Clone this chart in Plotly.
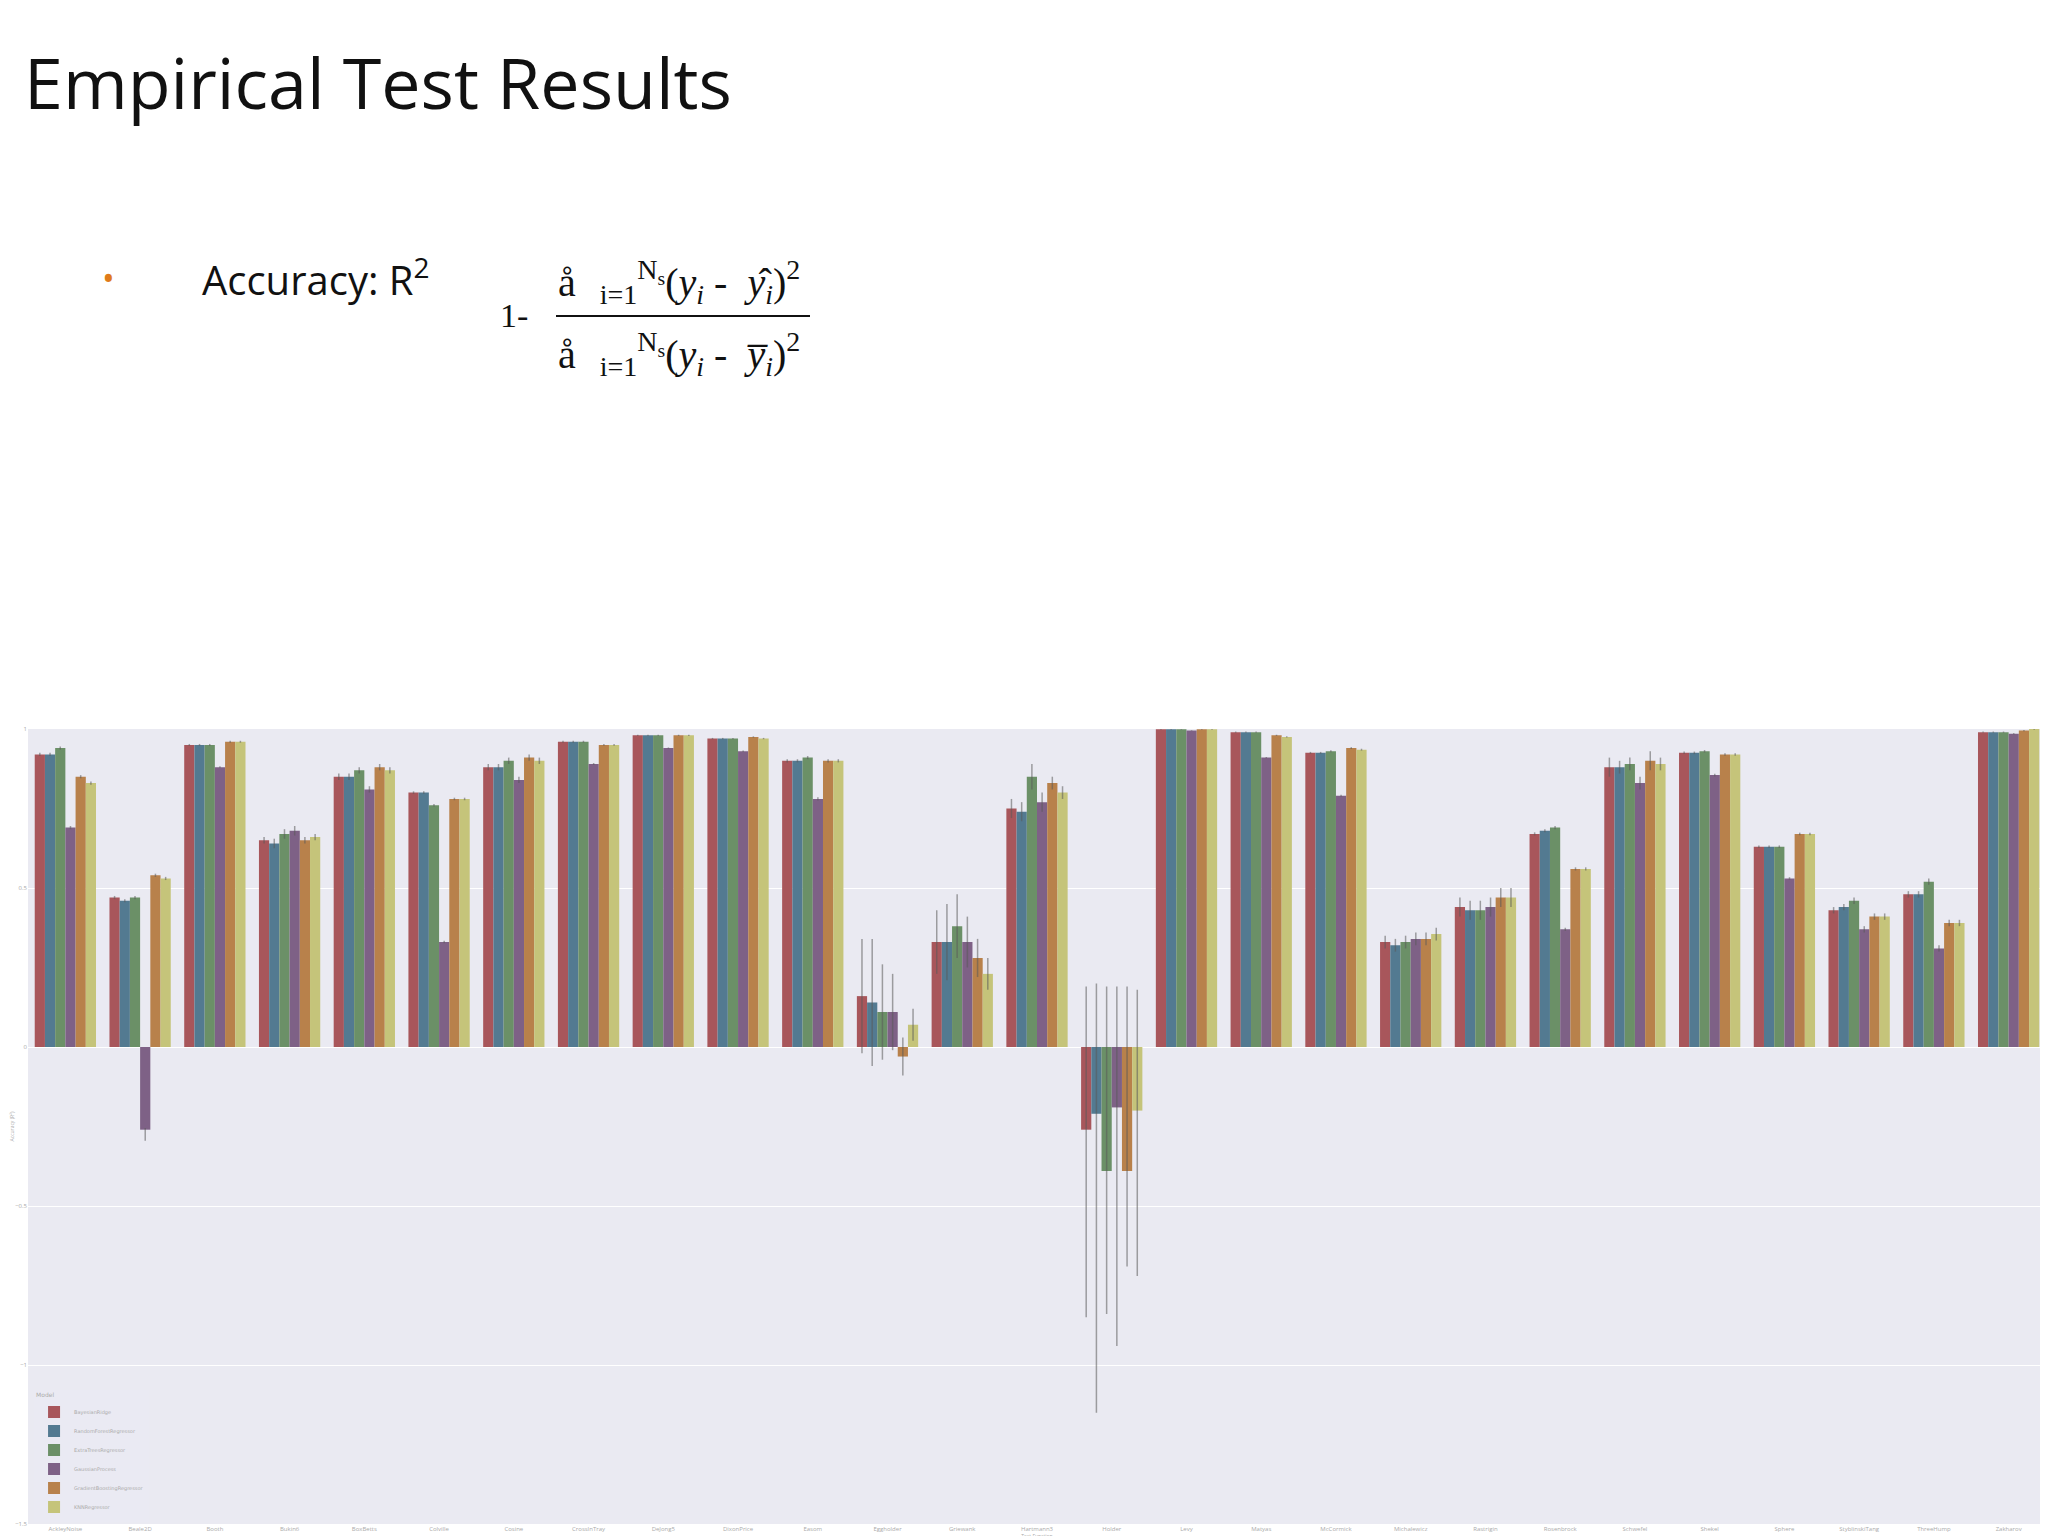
import plotly.graph_objects as go

W, H = 2048, 1536
L, R, T, B = 20, 10, 721, 20

functions = ["AckleyNoise", "Beale2D", "Booth", "Bukin6", "BoxBetts", "Colville", "Cosine", "CrossInTray", "DeJong5", "DixonPrice",
             "Easom", "Eggholder", "Griewank", "Hartmann3", "Holder", "Levy", "Matyas", "McCormick", "Michalewicz", "Rastrigin",
             "Rosenbrock", "Schwefel", "Shekel", "Sphere", "StyblinskiTang", "ThreeHump", "Zakharov"]
models = ["BayesianRidge", "RandomForestRegressor", "ExtraTreesRegressor", "GaussianProcess", "GradientBoostingRegressor", "KNNRegressor"]
colors = ["#a8565b", "#537a91", "#6b9067", "#7e6186", "#b8814b", "#c5c47a"]

r2 = [
    [.92, .47, .95, .65, .85, .80, .88, .96, .98, .97, .90, .16, .33, .75, -.26, .999, .99, .925, .33, .44, .67, .88, .925, .63, .43, .48, .99],
    [.92, .46, .95, .64, .85, .80, .88, .96, .98, .97, .90, .14, .33, .74, -.21, .999, .99, .925, .32, .43, .68, .88, .925, .63, .44, .48, .99],
    [.94, .47, .95, .67, .87, .76, .90, .96, .98, .97, .91, .11, .38, .85, -.39, .999, .99, .93, .33, .43, .69, .89, .93, .63, .46, .52, .99],
    [.69, -.26, .88, .68, .81, .33, .84, .89, .94, .93, .78, .11, .33, .77, -.19, .995, .91, .79, .34, .44, .37, .83, .855, .53, .37, .31, .985],
    [.85, .54, .96, .65, .88, .78, .91, .95, .98, .975, .90, -.03, .28, .83, -.39, .999, .98, .94, .34, .47, .56, .90, .92, .67, .41, .39, .995],
    [.83, .53, .96, .66, .87, .78, .90, .95, .98, .97, .90, .07, .23, .80, -.20, .999, .975, .935, .355, .47, .56, .89, .92, .67, .41, .39, 1.0],
]
err_up = [
    [.005, .005, .003, .01, .01, .004, .01, .003, .002, .002, .005, .18, .10, .03, .45, .001, .002, .003, .02, .03, .005, .03, .004, .004, .01, .01, .002],
    [.005, .005, .003, .015, .01, .004, .01, .003, .002, .002, .005, .20, .12, .03, .41, .001, .002, .003, .02, .03, .005, .02, .004, .004, .01, .01, .002],
    [.005, .005, .003, .015, .01, .004, .01, .003, .002, .002, .005, .15, .10, .04, .58, .001, .002, .003, .02, .03, .005, .02, .004, .004, .01, .01, .002],
    [.005, .005, .003, .015, .01, .004, .01, .003, .002, .002, .005, .12, .08, .03, .38, .001, .002, .003, .02, .03, .005, .02, .004, .004, .01, .01, .002],
    [.005, .005, .003, .01, .01, .004, .01, .003, .002, .002, .005, .06, .06, .02, .58, .001, .002, .003, .02, .03, .005, .03, .004, .004, .01, .01, .002],
    [.005, .005, .003, .01, .01, .004, .01, .003, .002, .002, .005, .05, .05, .02, .38, .001, .002, .003, .02, .03, .005, .02, .004, .004, .01, .01, .002],
]
err_dn = [
    [.005, .005, .003, .01, .01, .004, .01, .003, .002, .002, .005, .18, .10, .03, .59, .001, .002, .003, .02, .03, .005, .03, .004, .004, .01, .01, .002],
    [.005, .005, .003, .015, .01, .004, .01, .003, .002, .002, .005, .20, .12, .03, .94, .001, .002, .003, .02, .03, .005, .02, .004, .004, .01, .01, .002],
    [.005, .005, .003, .015, .01, .004, .01, .003, .002, .002, .005, .15, .10, .04, .45, .001, .002, .003, .02, .03, .005, .02, .004, .004, .01, .01, .002],
    [.005, .035, .003, .015, .01, .004, .01, .003, .002, .002, .005, .12, .08, .03, .75, .001, .002, .003, .02, .03, .005, .02, .004, .004, .01, .01, .002],
    [.005, .005, .003, .01, .01, .004, .01, .003, .002, .002, .005, .06, .06, .02, .30, .001, .002, .003, .02, .03, .005, .03, .004, .004, .01, .01, .002],
    [.005, .005, .003, .01, .01, .004, .01, .003, .002, .002, .005, .05, .05, .02, .52, .001, .002, .003, .02, .03, .005, .02, .004, .004, .01, .01, .002],
]

fig = go.Figure()
for m, c, v, eu, ed in zip(models, colors, r2, err_up, err_dn):
    fig.add_trace(go.Bar(x=functions, y=v, name=m, marker=dict(color=c, line=dict(width=0)),
                         error_y=dict(type="data", symmetric=False, array=eu, arrayminus=ed,
                                      color="rgba(90,90,90,0.55)", thickness=1.5, width=0)))


def px(x, y):
    return (x - L) / (W - L - R), (H - B - y) / (H - T - B)


def note(x, y, text, size, family="Open Sans", color="#111", xanchor="left"):
    ax, ay = px(x, y)
    fig.add_annotation(x=ax, y=ay, xref="paper", yref="paper", text=text, showarrow=False,
                       xanchor=xanchor, yanchor="middle", font=dict(size=size, family=family, color=color))


note(14, 74, "Empirical Test Results", 70)
note(92, 270, "•", 34, color="#e07b1a")
note(192, 270, "Accuracy: R<sup>2</sup>", 40)
note(490, 308, "1-", 34, family="Liberation Serif")
note(548, 274, "å <sub>  i=1</sub><sup>N<sub>s</sub></sup>(<i>y<sub>i</sub></i> -  <i>y</i>̂<sub><i>i</i></sub>)<sup>2</sup>", 40, family="Liberation Serif")
note(548, 346, "å <sub>  i=1</sub><sup>N<sub>s</sub></sup>(<i>y<sub>i</sub></i> -  <i>y̅<sub>i</sub></i>)<sup>2</sup>", 40, family="Liberation Serif")
a0, b0 = px(548, 308)
a1, _ = px(802, 308)
fig.add_shape(type="line", xref="paper", yref="paper", x0=a0, x1=a1, y0=b0, y1=b0, line=dict(color="#111", width=2))

fig.update_layout(
    width=W, height=H, margin=dict(l=L, r=R, t=T, b=B),
    paper_bgcolor="white", plot_bgcolor="#eaeaf2",
    barmode="group", bargap=0.18, bargroupgap=0,
    showlegend=True,
    legend=dict(x=0.003, y=0.003, xanchor="left", yanchor="bottom", bgcolor="rgba(234,234,242,0.8)",
                title=dict(text="Model", side="top", font=dict(size=6, color="#aaa")),
                font=dict(size=5, color="#aaa", family="DejaVu Sans"), itemwidth=30, tracegroupgap=0),
    xaxis=dict(tickfont=dict(size=6, color="#aaa"), tickangle=0, showgrid=False, zeroline=False,
               title=dict(text="Test Function", font=dict(size=5, color="#aaa"), standoff=0), automargin=False),
    yaxis=dict(range=[-1.5, 1.0], tickvals=[-1.5, -1.0, -0.5, 0.0, 0.5, 1.0], tickfont=dict(size=6, color="#aaa"),
               gridcolor="white", zeroline=False, title=dict(text="Accuracy (R²)", font=dict(size=5, color="#aaa"), standoff=0),
               automargin=False),
)

fig.write_html("out.html")
